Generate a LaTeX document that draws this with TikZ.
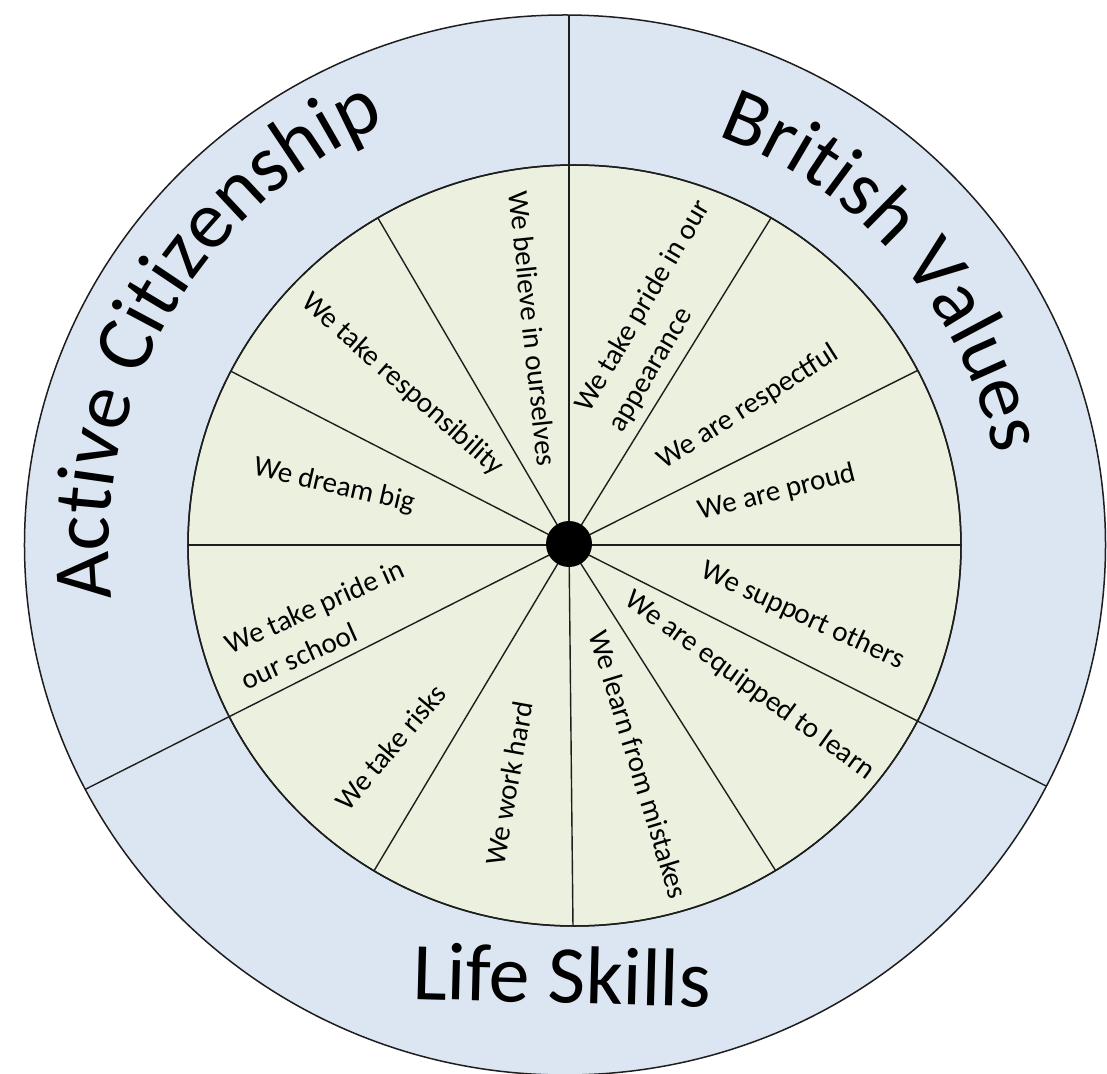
\documentclass[tikz,border=0pt]{standalone}
\usepackage{fontspec}
\setmainfont{Carlito}
\usetikzlibrary{decorations.text}
\definecolor{ringblue}{RGB}{220,230,242}
\definecolor{innergreen}{RGB}{235,241,222}
\definecolor{linecol}{RGB}{30,30,30}
\begin{document}
\begin{tikzpicture}[x=1pt,y=1pt,
  ringline/.style={draw=linecol, line width=1.5pt},
  spoke/.style={draw=linecol, line width=1.4pt},
  valuelabel/.style={font=\fontsize{29}{39}\selectfont, inner sep=0pt, align=left, text=black},
  bigtitle/.style={font=\fontsize{82}{96}\selectfont, inner sep=0pt, text=black}]
\useasboundingbox (-569,-528) rectangle (538,545);
% outer ring
\path[fill=ringblue, ringline] (-4,0) ellipse [x radius=540.5, y radius=530];
\begin{scope}
  \clip (-4,0) ellipse [x radius=540.5, y radius=530];
  \foreach \a in {90,206.8,333.2} \draw[spoke] (0,0) -- (\a:700);
\end{scope}
% inner disc
\path[fill=innergreen, ringline] (5.5,-0.5) ellipse [x radius=386.5, y radius=380.5];
\begin{scope}
  \clip (5.5,-0.5) ellipse [x radius=386.5, y radius=380.5];
  \foreach \a in {0,26.6,58.3,90,120.3,152.8,180,206.8,239.1,270.6,302.4,333.2}
    \draw[spoke] (0,0) -- (\a:500);
\end{scope}
\draw[ringline] (5.5,-0.5) ellipse [x radius=386.5, y radius=380.5];
\fill[black] (0,1) circle (23);
\coordinate (hub) at (0,1);
% inner labels
\node[valuelabel, rotate=-84]   (v1)  at (-36,216.5)  {We believe in ourselves};
\node[valuelabel, rotate=-41.5] (v2)  at (-166.6,160.4) {We take responsibility};
\node[valuelabel, rotate=-13]   (v3)  at (-235,59)    {We dream big};
\node[valuelabel, rotate=24]    (v4)  at (-246.5,-79.3) {We take pride in\\our school};
\node[valuelabel, rotate=50]    (v5)  at (-178.6,-202.3) {We take risks};
\node[valuelabel, rotate=79.8]  (v6)  at (-60,-238.6) {We work hard};
\node[valuelabel, rotate=-73]   (v7)  at (70,-219.4)  {We learn from mistakes};
\node[valuelabel, rotate=-35.9] (v8)  at (180.7,-140.7) {We are equipped to learn};
\node[valuelabel, rotate=-24.7] (v9)  at (233.7,-70.9) {We support others};
\node[valuelabel, rotate=14.2]  (v10) at (207.6,52.3)  {We are proud};
\node[valuelabel, rotate=32.4]  (v11) at (179.3,137.8) {We are respectful};
\node[valuelabel, rotate=59.5]  (v12) at (91,228.7)    {We take pride in our\\appearance};
% curved titles
\path[decorate, decoration={text along path, text align=center,
  text={|\fontsize{82}{96}\selectfont|Active Citizenship}}]
  (-2,0) ++(205:458) arc[start angle=205, end angle=95, radius=458];
\path[decorate, decoration={text along path, text align=center,
  text={|\fontsize{80}{96}\selectfont|British Values}}]
  (0,0) ++(95:435) arc[start angle=95, end angle=-13, radius=435];
\node[bigtitle, anchor=base, rotate=-1.5] (life) at (-7.5,-458) {Life Skills};
\end{tikzpicture}
\end{document}
